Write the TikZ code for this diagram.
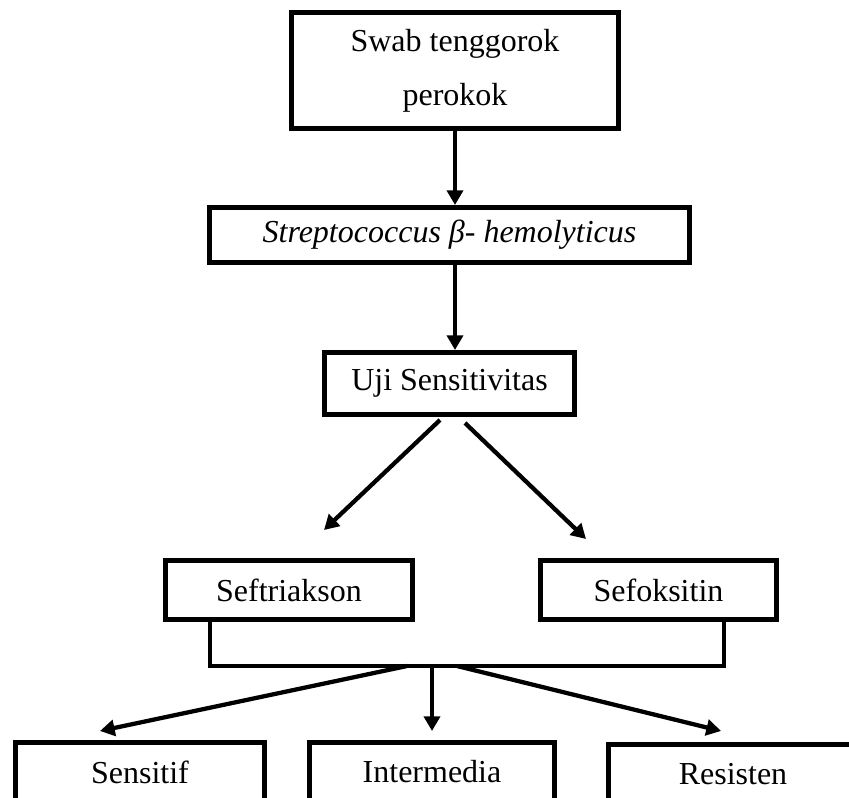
\documentclass[tikz,border=0pt]{standalone}
\usepackage{fontspec}
\setmainfont{Liberation Serif}
\usetikzlibrary{arrows.meta}
\begin{document}
\begin{tikzpicture}[x=0.75pt,y=-0.75pt,
  box/.style={draw,line width=3.75pt,inner sep=0pt,align=center,
    font=\fontsize{24}{40.5}\selectfont},
  conn/.style={line width=3.2pt},
  arr/.style={conn,-{Triangle[length=11pt,width=12pt]}}]
\useasboundingbox (0,0) rectangle (849,798);
% boxes
\node[box,minimum width=245.25pt,minimum height=87pt] (top) at (455,71) {Swab tenggorok\\perokok};
\node[box,minimum width=360pt,minimum height=41.25pt] (strep) at (449.5,235) {\textit{Streptococcus β- hemolyticus}};
\node[box,minimum width=187.5pt,minimum height=46.5pt] (uji) at (449.5,383.5) {Uji Sensitivitas};
\node[box,minimum width=185.25pt,minimum height=44.25pt] (seft) at (289,590) {Seftriakson};
\node[box,minimum width=177pt,minimum height=44.25pt] (sefo) at (658.5,590) {Sefoksitin};
\node[box,minimum width=186.75pt,minimum height=44.25pt] (sens) at (140,772) {Sensitif};
\node[box,minimum width=183.75pt,minimum height=44.25pt] (inter) at (432,772) {Intermedia};
\node[box,minimum width=186.75pt,minimum height=44.25pt] (resis) at (733,774) {Resisten};
% coordinates
\coordinate (d1s) at (440,420);
\coordinate (d1e) at (324,530);
\coordinate (d2s) at (465,423);
\coordinate (d2e) at (586,539);
\coordinate (bL) at (210,666);
\coordinate (bR) at (724,666);
\coordinate (j0) at (432,666);
\coordinate (jl) at (407,666);
\coordinate (jr) at (457,666);
\coordinate (t0) at (432,731);
\coordinate (tl) at (100,731);
\coordinate (tr) at (721,731);
% connectors
\draw[arr] (top.south) -- (strep.north -| top.south);
\draw[arr] (strep.south -| top.south) -- (uji.north -| top.south);
\draw[arr] (d1s) -- (d1e);
\draw[arr] (d2s) -- (d2e);
\draw[conn] (bL |- seft.south) -- (bL) -- (bR) -- (bR |- sefo.south);
\draw[arr] (j0) -- (t0);
\draw[arr] (jl) -- (tl);
\draw[arr] (jr) -- (tr);
\end{tikzpicture}
\end{document}
